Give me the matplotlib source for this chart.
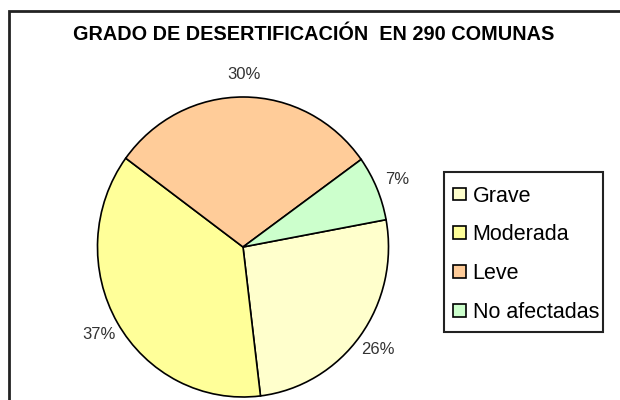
import matplotlib.pyplot as plt
from matplotlib.patches import Rectangle, Patch

# Data
categories = ["Grave", "Moderada", "Leve", "No afectadas"]
percent = [26, 37, 30, 7]
colors = ["#FFFFCC", "#FFFF99", "#FFCC99", "#CCFFCC"]
title = "GRADO DE DESERTIFICACIÓN  EN 290 COMUNAS"

W, H = 620, 400
fig = plt.figure(figsize=(W / 100, H / 100), dpi=100)
fonts = ["Liberation Sans", "DejaVu Sans"]

# chart frame (runs off right/bottom edge)
fig.patches.append(Rectangle((9 / W, -0.1), 1.2, (H - 11) / H + 0.1,
                             transform=fig.transFigure, fill=False,
                             edgecolor="#222222", linewidth=2))

# pie axes: slightly elliptical, like the original
left, right, top, bottom = 97.5, 388.5, 97, 397
ax = fig.add_axes([left / W, (H - bottom) / H, (right - left) / W, (bottom - top) / H])
wedges, texts = ax.pie(percent, colors=colors, startangle=10.5, counterclock=False,
                       labels=[f"{p}%" for p in percent], labeldistance=1.15,
                       wedgeprops=dict(edgecolor="black", linewidth=1.2),
                       textprops=dict(fontsize=12, color="#333333", family=fonts))
for t in texts:
    t.set_horizontalalignment("center")
ax.set_xlim(-1, 1)
ax.set_ylim(-1, 1)
ax.set_aspect("auto")

fig.text(314 / W, 1 - 34.5 / H, title, ha="center", va="center",
         fontsize=14.3, fontweight="bold", family=fonts)

# legend box
fig.patches.append(Rectangle((444 / W, 1 - 332 / H), (603 - 444) / W, (332 - 172) / H,
                             transform=fig.transFigure, fill=False,
                             edgecolor="#222222", linewidth=1.5))
handles = [Patch(facecolor=c, edgecolor="black", linewidth=1.2) for c in colors]
leg = fig.legend(handles, categories, loc="upper left",
                 bbox_to_anchor=(444 / W, 1 - 177 / H),
                 prop=dict(family=fonts, size=15.5),
                 frameon=False, borderpad=0.4, labelspacing=0.83,
                 handlelength=0.6, handleheight=0.55, handletextpad=0.33,
                 borderaxespad=0)

fig.savefig("out.png", dpi=100)
